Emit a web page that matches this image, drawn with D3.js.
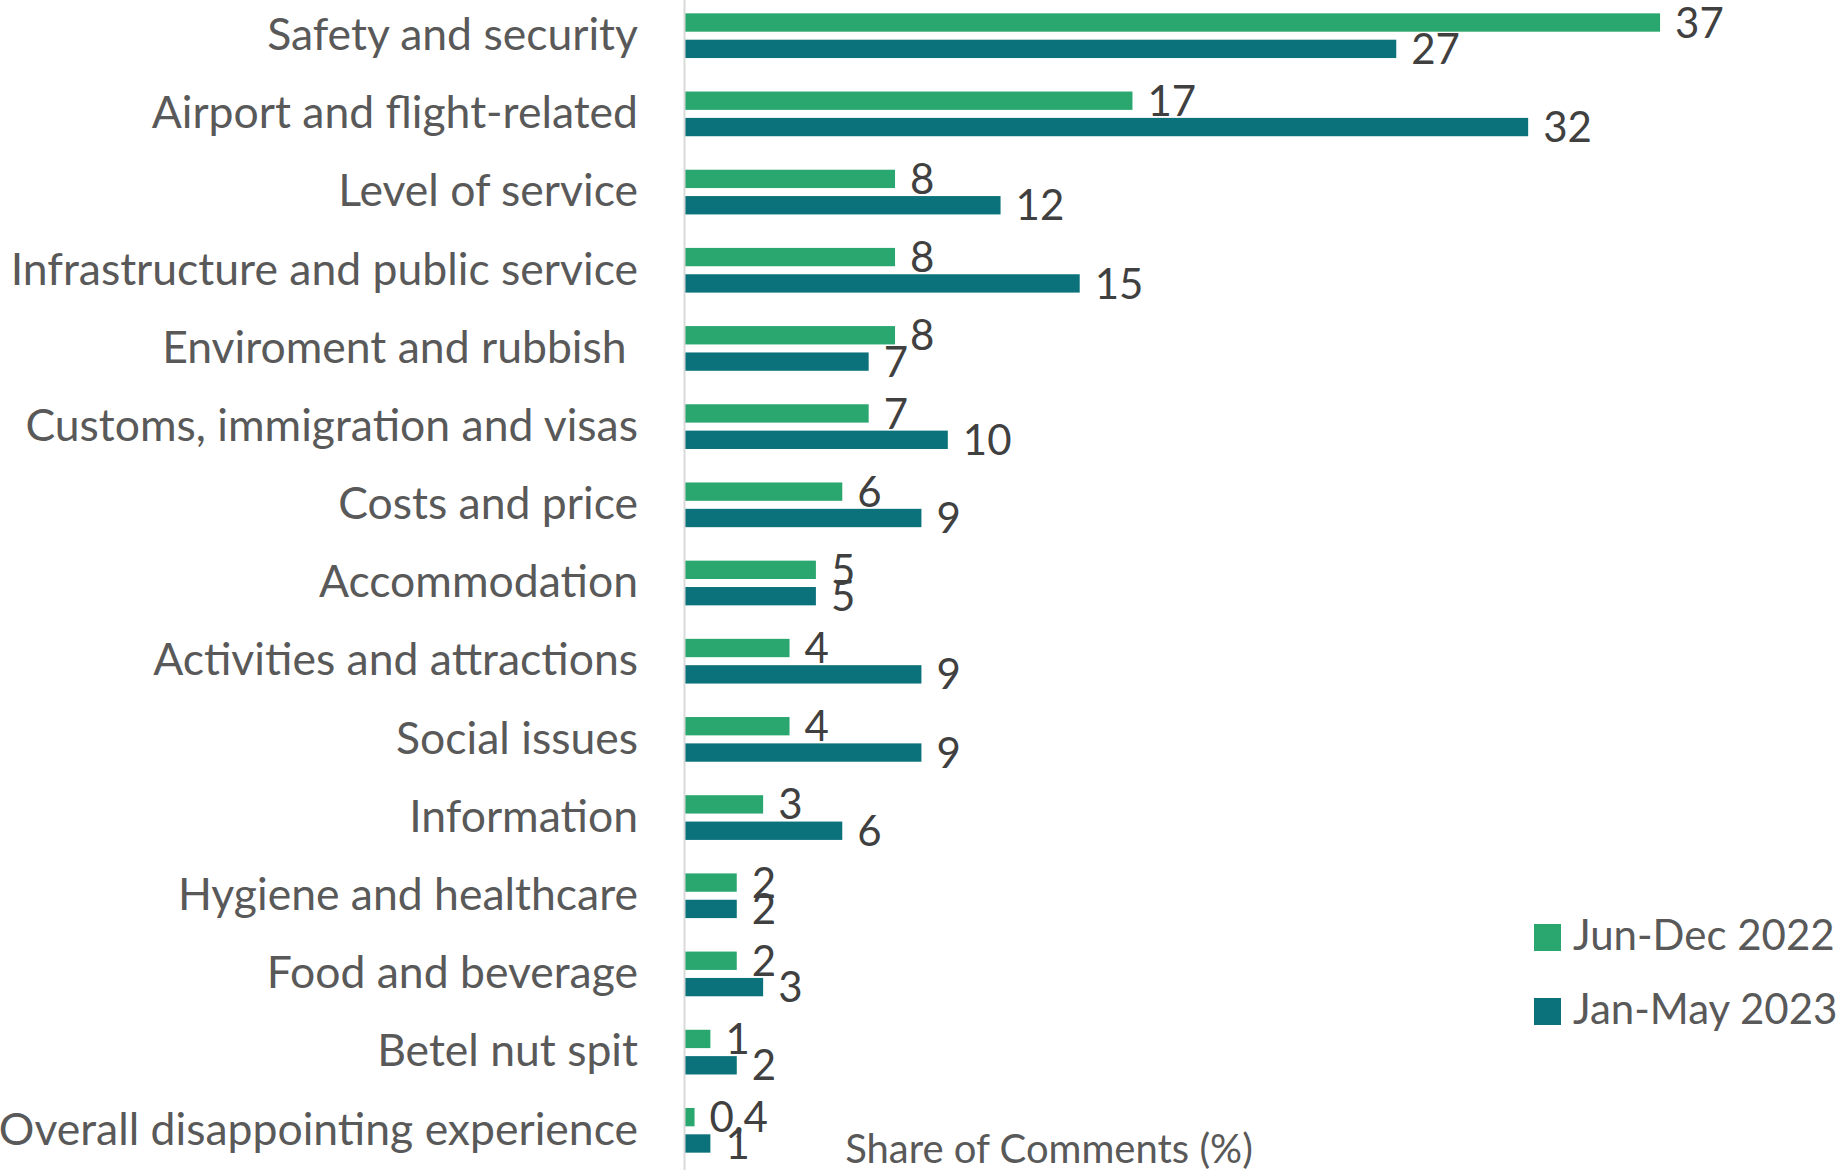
<!DOCTYPE html>
<html>
<head>
<meta charset="utf-8">
<script src="https://cdn.jsdelivr.net/npm/d3@7"></script>
<style>
  html, body { margin: 0; padding: 0; background: #ffffff; }
  svg { display: block; font-family: Lato, "Open Sans", sans-serif; }
  .cat text { white-space: pre; }
</style>
</head>
<body>
<svg id="chart" width="1844" height="1174"></svg>
<script>
// Topics of visitor comments, top to bottom
const categories = [
  "Safety and security",
  "Airport and flight-related",
  "Level of service",
  "Infrastructure and public service",
  "Enviroment and rubbish ",
  "Customs, immigration and visas",
  "Costs and price",
  "Accommodation",
  "Activities and attractions",
  "Social issues",
  "Information",
  "Hygiene and healthcare",
  "Food and beverage",
  "Betel nut spit",
  "Overall disappointing experience"
];

const seriesNames = ["Jun-Dec 2022", "Jan-May 2023"];
const seriesColors = ["#2aa66f", "#0b717a"];

// Share of comments (%) per topic
const junDec2022 = [37, 17, 8, 8, 8, 7, 6, 5, 4, 4, 3, 2, 2, 1, 0.4];
const janMay2023 = [27, 32, 12, 15, 7, 10, 9, 5, 9, 9, 6, 2, 3, 2, 1];

const axisTitle = "Share of Comments (%)";

const rows = categories.map((c, i) => ({
  category: c,
  values: [
    { series: seriesNames[0], value: junDec2022[i] },
    { series: seriesNames[1], value: janMay2023[i] }
  ]
}));

const svg = d3.select("#chart");

const x = d3.scaleLinear().domain([0, 40]).range([684, 684 + 40 * 26.38]);
const y = d3.scaleBand().domain(categories).range([-3.4, 1169.4]).padding(0);

const groupH = 44.7;
const y1 = d3.scaleBand()
  .domain(seriesNames)
  .range([(y.bandwidth() - groupH) / 2, (y.bandwidth() + groupH) / 2])
  .paddingInner(0.304);

const color = d3.scaleOrdinal().domain(seriesNames).range(seriesColors);
const fmt = v => String(v).replace(".", ",");

// Bars
const groups = svg.append("g")
  .selectAll("g")
  .data(rows)
  .join("g")
  .attr("transform", d => `translate(0,${y(d.category)})`);

groups.selectAll("rect")
  .data(d => d.values)
  .join("rect")
  .attr("x", x(0))
  .attr("y", d => y1(d.series))
  .attr("width", d => x(d.value) - x(0))
  .attr("height", y1.bandwidth())
  .attr("fill", d => color(d.series));

// Value labels
groups.selectAll("text")
  .data(d => d.values)
  .join("text")
  .attr("x", d => x(d.value) + 15)
  .attr("y", d => y1(d.series) + y1.bandwidth() / 2)
  .attr("dy", "0.36em")
  .attr("fill", "#404040")
  .attr("font-size", 42)
  .text(d => fmt(d.value));

// Category axis
const yAxis = svg.append("g")
  .attr("class", "cat")
  .attr("transform", `translate(${x(0)},0)`)
  .call(d3.axisLeft(y).tickSize(0).tickSizeOuter(0).tickPadding(46));

yAxis.select(".domain").attr("stroke", "#d9d9d9").attr("stroke-width", 2);
yAxis.selectAll(".tick text")
  .attr("fill", "#595959")
  .attr("font-size", 44.5)
  .attr("font-family", "Lato, 'Open Sans', sans-serif");

// Axis title
svg.append("text")
  .attr("x", 1049)
  .attr("y", 1163)
  .attr("text-anchor", "middle")
  .attr("fill", "#595959")
  .attr("font-size", 40)
  .text(axisTitle);

// Legend
const legend = svg.append("g")
  .selectAll("g")
  .data(seriesNames)
  .join("g")
  .attr("transform", (d, i) => `translate(1534,${924 + i * 74})`);

legend.append("rect")
  .attr("width", 27)
  .attr("height", 27)
  .attr("fill", d => color(d));

legend.append("text")
  .attr("x", 39)
  .attr("y", 26)
  .attr("fill", "#595959")
  .attr("font-size", 42)
  .text(d => d);
</script>
</body>
</html>
